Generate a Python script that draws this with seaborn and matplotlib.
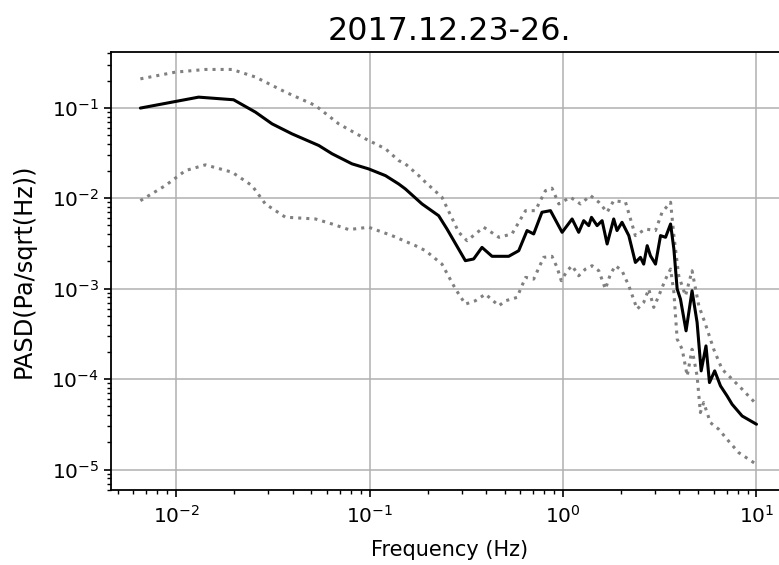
import matplotlib
matplotlib.use("Agg")
import matplotlib.pyplot as plt
import seaborn as sns
import numpy as np

# ---- data ----
median_freq = [0.00653, 0.01306, 0.0198, 0.0257, 0.0313, 0.0397, 0.0546, 0.0640, 0.0811, 0.0989,
               0.1208, 0.1413, 0.153, 0.1866, 0.2275, 0.2512, 0.3126, 0.345, 0.381, 0.4295,
               0.5236, 0.590, 0.6516, 0.705, 0.778, 0.861, 0.989, 1.114, 1.205, 1.279,
               1.358, 1.403, 1.500, 1.592, 1.690, 1.828, 1.901, 2.018, 2.188, 2.366,
               2.512, 2.612, 2.723, 2.831, 3.006, 3.192, 3.388, 3.597, 3.741, 3.890,
               4.046, 4.325, 4.645, 4.932, 5.176, 5.483, 5.715, 6.081, 6.516, 7.047,
               7.482, 8.433, 10.0]
median_pasd = [0.0993, 0.1312, 0.1227, 0.0895, 0.0665, 0.0515, 0.0383, 0.0310, 0.0240, 0.0211,
               0.01778, 0.01439, 0.01268, 0.00865, 0.00641, 0.00457, 0.00204, 0.00213, 0.00286, 0.00228,
               0.00228, 0.00263, 0.00439, 0.00403, 0.00700, 0.00729, 0.00420, 0.00590, 0.00420, 0.00565,
               0.00498, 0.00615, 0.00498, 0.00565, 0.00312, 0.00590, 0.00439, 0.00542, 0.00386, 0.00195,
               0.00222, 0.00187, 0.00299, 0.00231, 0.00187, 0.00386, 0.00370, 0.00519, 0.00275, 0.000991,
               0.000767, 0.000342, 0.000948, 0.000424, 0.0001233, 0.000233, 9.16e-5, 1.233e-4, 8.41e-5, 6.52e-5,
               5.27e-5, 3.91e-5, 3.17e-5]

upper_freq = [0.00653, 0.00991, 0.01416, 0.01945, 0.0257, 0.0367, 0.0525, 0.0692, 0.0951, 0.1208,
              0.1413, 0.153, 0.1795, 0.1945, 0.2366, 0.289, 0.319, 0.389, 0.466, 0.5445,
              0.640, 0.719, 0.811, 0.877, 0.951, 1.091, 1.230, 1.387, 1.531, 1.690,
              1.828, 2.104, 2.366, 2.667, 3.006, 3.251, 3.597, 3.741, 3.963, 4.295,
              4.645, 5.035, 5.445, 6.012, 6.637, 7.482, 8.433, 10.0]
upper_pasd = [0.209, 0.248, 0.2655, 0.2655, 0.2188, 0.1493, 0.1059, 0.0665, 0.0454, 0.0352,
              0.0261, 0.0240, 0.01778, 0.01503, 0.01026, 0.00420, 0.00339, 0.00478, 0.00370, 0.00403,
              0.00729, 0.00729, 0.01213, 0.01291, 0.00865, 0.01026, 0.00865, 0.01069, 0.00904, 0.00700,
              0.00940, 0.00904, 0.00386, 0.00457, 0.00439, 0.00700, 0.00904, 0.00386, 0.00139, 0.000834,
              0.001578, 0.000647, 0.000406, 0.000214, 0.0001288, 1.0e-4, 7.73e-5, 5.27e-5]

lower_freq = [0.00653, 0.00879, 0.01117, 0.01416, 0.01945, 0.02466, 0.0289, 0.0367, 0.0525, 0.0640,
              0.0780, 0.0989, 0.1306, 0.1726, 0.1945, 0.2366, 0.278, 0.3126, 0.352, 0.397,
              0.466, 0.5035, 0.578, 0.640, 0.705, 0.794, 0.877, 0.931, 0.979, 1.050,
              1.114, 1.205, 1.306, 1.413, 1.531, 1.656, 1.758, 1.866, 2.018, 2.188,
              2.415, 2.612, 2.773, 2.944, 3.126, 3.388, 3.597, 3.741, 3.890, 4.130,
              4.385, 4.645, 4.932, 5.129, 5.333, 5.781, 6.383, 7.047, 8.091, 10.0]
lower_pasd = [0.00940, 0.01380, 0.02023, 0.02339, 0.01941, 0.01380, 0.00865, 0.00617, 0.00590, 0.00519,
              0.00450, 0.00478, 0.00386, 0.00299, 0.00263, 0.00187, 0.000991, 0.000675, 0.000735, 0.000871,
              0.000647, 0.000735, 0.000800, 0.001334, 0.001276, 0.00222, 0.00228, 0.001722, 0.001225, 0.001578,
              0.001795, 0.00139, 0.001648, 0.001795, 0.001578, 0.000991, 0.001452, 0.001795, 0.001578, 0.001076,
              0.000594, 0.000705, 0.000991, 0.000621, 0.000834, 0.001276, 0.001648, 0.000910, 0.000277, 0.000214,
              0.0001084, 0.000214, 0.0001084, 4.27e-5, 5.51e-5, 3.30e-5, 2.79e-5, 2.16e-5, 1.54e-5, 1.14e-5]

title_text = "2017.12.23-26."
x_label = "Frequency (Hz)"
y_label = "PASD(Pa/sqrt(Hz))"

# ---- style ----
sns.set_style("ticks", {"axes.grid": True, "grid.color": "#b0b0b0",
                        "axes.edgecolor": "black", "axes.labelcolor": "black",
                        "text.color": "black", "xtick.color": "black",
                        "ytick.color": "black", "xtick.direction": "out",
                        "ytick.direction": "out"})
plt.rcParams["font.family"] = ["DejaVu Sans"]

fig = plt.figure(figsize=(7.79, 5.65), dpi=100)
ax = fig.add_axes([111 / 779, 75 / 565, 677 / 779, 438 / 565])

sns.lineplot(x=upper_freq, y=upper_pasd, ax=ax, color="0.5", linestyle=":",
             linewidth=2.2, estimator=None, sort=False)
sns.lineplot(x=lower_freq, y=lower_pasd, ax=ax, color="0.5", linestyle=":",
             linewidth=2.2, estimator=None, sort=False)
sns.lineplot(x=median_freq, y=median_pasd, ax=ax, color="black", linestyle="-",
             linewidth=2.2, estimator=None, sort=False)

ax.set_xscale("log")
ax.set_yscale("log")
ax.set_xlim(10 ** -2.337, 10 ** 1.163)
ax.set_ylim(10 ** -5.226, 10 ** -0.383)

ax.grid(True, which="major", color="#b0b0b0", linewidth=1.1)
ax.grid(False, which="minor")
for s in ax.spines.values():
    s.set_linewidth(1.3)
    s.set_color("black")

ax.tick_params(which="major", length=5, width=1.2, labelsize=14.5, color="black",
               labelcolor="black")
ax.tick_params(which="minor", length=3, width=1.0, color="black")
ax.tick_params(axis="x", which="major", pad=5.5)

ax.set_title(title_text, fontsize=22.9, pad=9, color="black")
ax.set_xlabel(x_label, fontsize=15, labelpad=10, color="black")
ax.set_ylabel(y_label, fontsize=17.3, labelpad=11, color="black")

fig.savefig("out.png", dpi=100)
